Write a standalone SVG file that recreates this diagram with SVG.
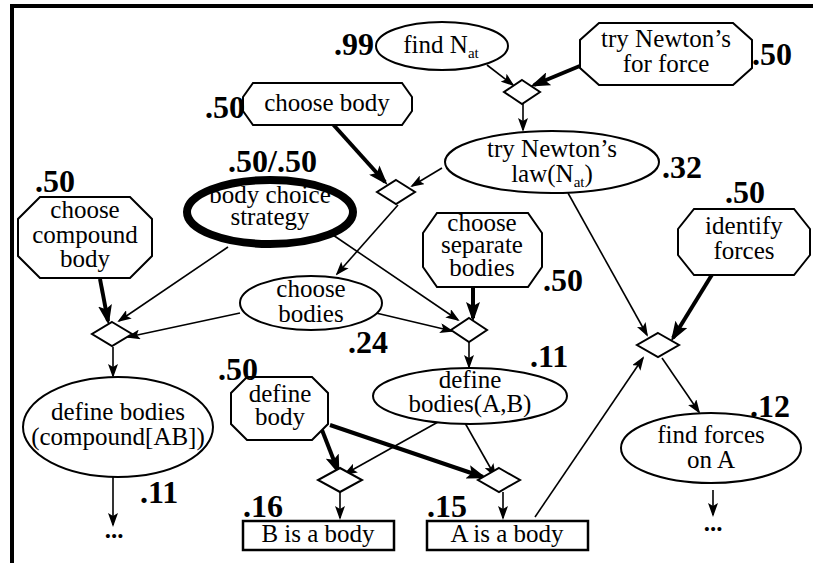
<svg xmlns="http://www.w3.org/2000/svg" width="813" height="563" viewBox="0 0 813 563" font-family="Liberation Serif, serif">
<defs>
<marker id="ah" markerUnits="userSpaceOnUse" markerWidth="14" markerHeight="10" refX="12" refY="5" orient="auto"><path d="M0,0 L14,5 L0,10 L3,5 z" fill="#000" stroke="none"/></marker>
<marker id="ahb" markerUnits="userSpaceOnUse" markerWidth="20" markerHeight="14" refX="16" refY="7" orient="auto"><path d="M0,0 L20,7 L0,14 L4,7 z" fill="#000" stroke="none"/></marker>
</defs>
<rect width="813" height="563" fill="#fff"/>
<path d="M12,563 L12,6 L813,6" fill="none" stroke="#000" stroke-width="4"/>
<g id="connectors" fill="none" stroke="#000">
<g stroke-width="1.6" marker-end="url(#ah)">
<path d="M487,65 L513,85"/>
<path d="M523,104 L523,130"/>
<path d="M442,168 L412,186"/>
<path d="M398,205 L337,274"/>
<path d="M228,247 L119,321"/>
<path d="M333,235 L458,320"/>
<path d="M240,313 L128,337"/>
<path d="M376,313 L452,331"/>
<path d="M469,342 L469,367"/>
<path d="M113,347 L113,376"/>
<path d="M113,477 L113,525"/>
<path d="M438,422 L345,474"/>
<path d="M465,423 L495,476"/>
<path d="M340,492 L340,518"/>
<path d="M503,492 L503,518"/>
<path d="M535,517 L643,358"/>
<path d="M568,193 L647,335"/>
<path d="M662,358 L699,412"/>
<path d="M713,490 L713,515"/>
</g>
<g stroke-width="4" marker-end="url(#ahb)">
<path d="M587,63 L534,85"/>
<path d="M330,121 L385,182"/>
<path d="M100,279 L108,321"/>
<path d="M473,287 L473,318"/>
<path d="M322,430 L338,471"/>
<path d="M330,425 L483,477"/>
<path d="M713,273 L673,338"/>
</g>
</g>
<g fill="#fff" stroke="#000" stroke-width="2">
<g id="d1"><polygon points="522,80 540,92 522,104 504,92"/></g>
<g id="d2"><polygon points="396,180 415,192 396,204 377,192"/></g>
<g id="d3"><polygon points="112,322 132,334 112,346 92,334"/></g>
<g id="d4"><polygon points="469,318 487,330 469,342 451,330"/></g>
<g id="d5"><polygon points="340,468 362,480 340,492 318,480"/></g>
<g id="d6"><polygon points="499,468 520,480 499,492 478,480"/></g>
<g id="d7"><polygon points="658,333 679,345 658,357 637,345"/></g>
</g>
<g id="findNat">
<ellipse cx="442" cy="46" rx="66" ry="24" fill="#fff" stroke="#000" stroke-width="2"/>
<text font-family="Liberation Serif" font-size="25" text-anchor="middle" x="441" y="53">find N<tspan font-size="15" dy="5">at</tspan></text>
<text font-family="Liberation Serif" font-size="32" font-weight="bold" x="334" y="55">.99</text>
</g>
<g id="tryForce">
<polygon points="599,23 733,23 752,40 752,68 733,85 599,85 580,68 580,40" fill="#fff" stroke="#000" stroke-width="2"/>
<text font-family="Liberation Serif" font-size="25" text-anchor="middle" x="666" y="47">try Newton&#8217;s</text>
<text font-family="Liberation Serif" font-size="25" text-anchor="middle" x="666" y="72">for force</text>
<text font-family="Liberation Serif" font-size="32" font-weight="bold" x="752" y="65">.50</text>
</g>
<g id="chooseBody">
<polygon points="253,83 402,83 412,97 412,111 402,125 253,125 243,111 243,97" fill="#fff" stroke="#000" stroke-width="2"/>
<text font-family="Liberation Serif" font-size="25" text-anchor="middle" x="327" y="111">choose body</text>
<text font-family="Liberation Serif" font-size="32" font-weight="bold" x="205" y="118">.50</text>
</g>
<g id="tryLaw">
<ellipse cx="552" cy="162" rx="107" ry="31" fill="#fff" stroke="#000" stroke-width="2"/>
<text font-family="Liberation Serif" font-size="25" text-anchor="middle" x="552" y="157">try Newton&#8217;s</text>
<text font-family="Liberation Serif" font-size="25" text-anchor="middle" x="552" y="182">law(N<tspan font-size="15" dy="5">at</tspan><tspan dy="-5">)</tspan></text>
<text font-family="Liberation Serif" font-size="32" font-weight="bold" x="662" y="178">.32</text>
</g>
<g id="strategy">
<ellipse cx="270" cy="212" rx="83" ry="32" fill="#fff" stroke="#000" stroke-width="8"/>
<text font-family="Liberation Serif" font-size="25" text-anchor="middle" x="270" y="203">body choice</text>
<text font-family="Liberation Serif" font-size="25" text-anchor="middle" x="270" y="225">strategy</text>
<text font-family="Liberation Serif" font-size="32" font-weight="bold" x="228" y="172">.50/.50</text>
</g>
<g id="chooseCompound">
<polygon points="40,197 130,197 152,219 152,256 130,278 40,278 18,256 18,219" fill="#fff" stroke="#000" stroke-width="2"/>
<text font-family="Liberation Serif" font-size="25" text-anchor="middle" x="85" y="218">choose</text>
<text font-family="Liberation Serif" font-size="25" text-anchor="middle" x="85" y="243">compound</text>
<text font-family="Liberation Serif" font-size="25" text-anchor="middle" x="85" y="267">body</text>
<text font-family="Liberation Serif" font-size="32" font-weight="bold" x="35" y="192">.50</text>
</g>
<g id="chooseSeparate">
<polygon points="437,213 528,213 542,233 542,267 528,287 437,287 423,267 423,233" fill="#fff" stroke="#000" stroke-width="2"/>
<text font-family="Liberation Serif" font-size="25" text-anchor="middle" x="482" y="231">choose</text>
<text font-family="Liberation Serif" font-size="25" text-anchor="middle" x="482" y="253">separate</text>
<text font-family="Liberation Serif" font-size="25" text-anchor="middle" x="482" y="276">bodies</text>
<text font-family="Liberation Serif" font-size="32" font-weight="bold" x="543" y="291">.50</text>
</g>
<g id="identifyForces">
<polygon points="694,209 794,209 810,229 810,255 794,275 694,275 678,255 678,229" fill="#fff" stroke="#000" stroke-width="2"/>
<text font-family="Liberation Serif" font-size="25" text-anchor="middle" x="744" y="234">identify</text>
<text font-family="Liberation Serif" font-size="25" text-anchor="middle" x="744" y="259">forces</text>
<text font-family="Liberation Serif" font-size="32" font-weight="bold" x="725" y="203">.50</text>
</g>
<g id="chooseBodies">
<ellipse cx="311" cy="303" rx="71" ry="27" fill="#fff" stroke="#000" stroke-width="2"/>
<text font-family="Liberation Serif" font-size="25" text-anchor="middle" x="311" y="297">choose</text>
<text font-family="Liberation Serif" font-size="25" text-anchor="middle" x="311" y="322">bodies</text>
<text font-family="Liberation Serif" font-size="32" font-weight="bold" x="348" y="353">.24</text>
</g>
<g id="defineAB">
<ellipse cx="470" cy="396" rx="97" ry="28" fill="#fff" stroke="#000" stroke-width="2"/>
<text font-family="Liberation Serif" font-size="25" text-anchor="middle" x="470" y="388">define</text>
<text font-family="Liberation Serif" font-size="25" text-anchor="middle" x="470" y="412">bodies(A,B)</text>
<text font-family="Liberation Serif" font-size="32" font-weight="bold" x="530" y="367">.11</text>
</g>
<g id="defineCompound">
<ellipse cx="118" cy="427" rx="95" ry="50" fill="#fff" stroke="#000" stroke-width="2"/>
<text font-family="Liberation Serif" font-size="25" text-anchor="middle" x="118" y="420">define bodies</text>
<text font-family="Liberation Serif" font-size="25" text-anchor="middle" x="118" y="445">(compound[AB])</text>
<text font-family="Liberation Serif" font-size="32" font-weight="bold" x="140" y="503">.11</text>
<text font-family="Liberation Serif" font-size="25" font-weight="bold" text-anchor="middle" x="114" y="538">...</text>
</g>
<g id="defineBody">
<polygon points="247,377 312,377 328,393 328,424 312,440 247,440 231,424 231,393" fill="#fff" stroke="#000" stroke-width="2"/>
<text font-family="Liberation Serif" font-size="25" text-anchor="middle" x="280" y="402">define</text>
<text font-family="Liberation Serif" font-size="25" text-anchor="middle" x="280" y="425">body</text>
<text font-family="Liberation Serif" font-size="32" font-weight="bold" x="218" y="380">.50</text>
</g>
<g id="findForces">
<ellipse cx="711" cy="448" rx="90" ry="35" fill="#fff" stroke="#000" stroke-width="2"/>
<text font-family="Liberation Serif" font-size="25" text-anchor="middle" x="711" y="443">find forces</text>
<text font-family="Liberation Serif" font-size="25" text-anchor="middle" x="711" y="468">on A</text>
<text font-family="Liberation Serif" font-size="32" font-weight="bold" x="750" y="417">.12</text>
<text font-family="Liberation Serif" font-size="25" font-weight="bold" text-anchor="middle" x="713" y="531">...</text>
</g>
<g id="bBody">
<rect x="243" y="521" width="151" height="29" fill="#fff" stroke="#000" stroke-width="2.5"/>
<text font-family="Liberation Serif" font-size="25" text-anchor="middle" x="318" y="542">B is a body</text>
<text font-family="Liberation Serif" font-size="32" font-weight="bold" x="243" y="517">.16</text>
</g>
<g id="aBody">
<rect x="427" y="521" width="161" height="29" fill="#fff" stroke="#000" stroke-width="2.5"/>
<text font-family="Liberation Serif" font-size="25" text-anchor="middle" x="507" y="542">A is a body</text>
<text font-family="Liberation Serif" font-size="32" font-weight="bold" x="427" y="517">.15</text>
</g>
</svg>
